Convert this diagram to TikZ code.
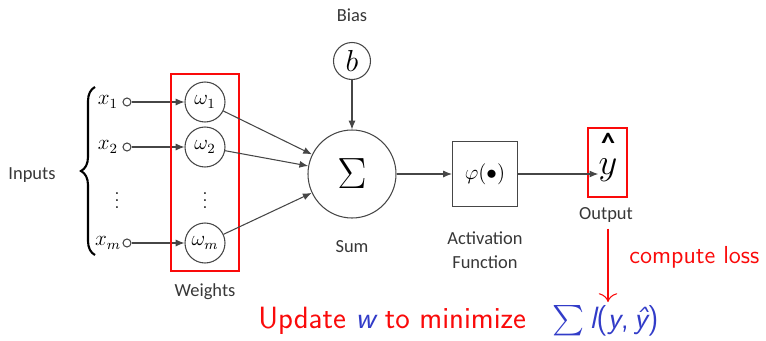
\documentclass[tikz,border=0pt]{standalone}
\usepackage{amsmath}
\usepackage{fontspec}
\usetikzlibrary{arrows.meta,fit,decorations.pathreplacing}
\newfontfamily\rotfont{Carlito}
\definecolor{LinG}{RGB}{70,70,70}
\definecolor{TxtG}{RGB}{55,55,55}
\definecolor{Verm}{RGB}{250,10,10}
\definecolor{Azul}{RGB}{50,60,200}
\tikzset{
  peso/.style={circle,draw=LinG,line width=.6pt,minimum size=.8cm,inner sep=0pt},
  ent/.style={circle,draw=LinG,line width=.6pt,minimum size=.16cm,inner sep=0pt},
  fio/.style={LinG,line width=.6pt,-{Latex[length=5pt,width=4pt]}},
  rot/.style={font=\rotfont\fontsize{10.5}{13.6}\selectfont,text=TxtG},
  caixa/.style={draw=Verm,line width=1.2pt},
}
\begin{document}
\begin{tikzpicture}
\useasboundingbox (0,0) rectangle (15.32,6.8);
% entradas e pesos
\node[rot] (inputs) at (.64,3.30) {Inputs};
\draw[line width=1.2pt,decorate,decoration={brace,amplitude=.28cm}] (1.90,1.70)--(1.90,5.06);
\foreach \i/\yy in {1/4.76,2/3.86,m/1.94}{
  \node[font=\large] (x\i) at (2.16,\yy) {$x_{\i}$};
  \node[ent] (c\i) at (2.54,\yy) {};
  \node[peso,font=\large] (w\i) at (4.10,\yy) {$\omega_{\i}$};
  \draw[fio] (c\i)--(w\i);
}
\node[inner sep=0pt] (xdots) at (2.34,2.90) {$\vdots$};
\node[inner sep=0pt] (wdots) at (4.10,2.90) {$\vdots$};
\node[caixa,fit=(w1)(wm),inner xsep=.27cm,inner ysep=.15cm] (wbox) {};
\node[rot] (weights) at (4.10,.96) {Weights};
% soma e vies
\node[rot] (bias) at (7.04,6.50) {Bias};
\node[peso,minimum size=.74cm,font=\LARGE] (b) at (7.04,5.58) {$b$};
\node[peso,minimum size=1.76cm,font=\Huge] (sum) at (7.04,3.32) {$\Sigma$};
\node[rot] (sumlbl) at (7.04,1.86) {Sum};
\foreach \i in {1,2,m} \draw[fio] (w\i)--(sum);
\draw[fio] (b)--(sum);
% ativacao e saida
\node[draw=LinG,line width=.6pt,minimum size=1.30cm,font=\large] (act) at (9.70,3.32) {$\varphi(\bullet)$};
\node[rot,align=center] (actlbl) at (9.70,1.80) {Activation\\Function};
\draw[fio] (sum)--(act);
\node[caixa,minimum width=.78cm,minimum height=1.38cm] (outbox) at (12.15,3.55) {};
\node[font=\fontsize{22}{24}\selectfont,inner sep=0pt] (yout) at (12.16,3.40) {$y$};
\node[font=\rotfont\bfseries\fontsize{16}{18}\selectfont,inner sep=0pt] (hat) at (12.16,3.95) {\textasciicircum};
\draw[fio] (act)--(act -| yout.west);
\node[rot] (outlbl) at (12.12,2.50) {Output};
% perda
\node[text=Verm,font=\sffamily\fontsize{14}{16}\selectfont,anchor=west,inner sep=0pt] (loss) at (12.58,1.66) {compute loss};
\coordinate (lossend) at (12.16,.76);
\draw[Verm,line width=.6pt,-{To[length=5pt]}] (outlbl.south -| yout) -- (lossend);
\node[text=Verm,font=\sffamily\fontsize{17.5}{20}\selectfont,anchor=base west,inner sep=0pt] (update) at (5.16,.24) {Update \textcolor{Azul}{\itshape w} to minimize};
\node[text=Azul,font=\sffamily\fontsize{17.5}{20}\selectfont,anchor=base west,inner sep=0pt] (obj) at (11.04,.24) {$\sum$\,{\itshape l}({\itshape y},\,{\itshape ŷ})};
\end{tikzpicture}
\end{document}
